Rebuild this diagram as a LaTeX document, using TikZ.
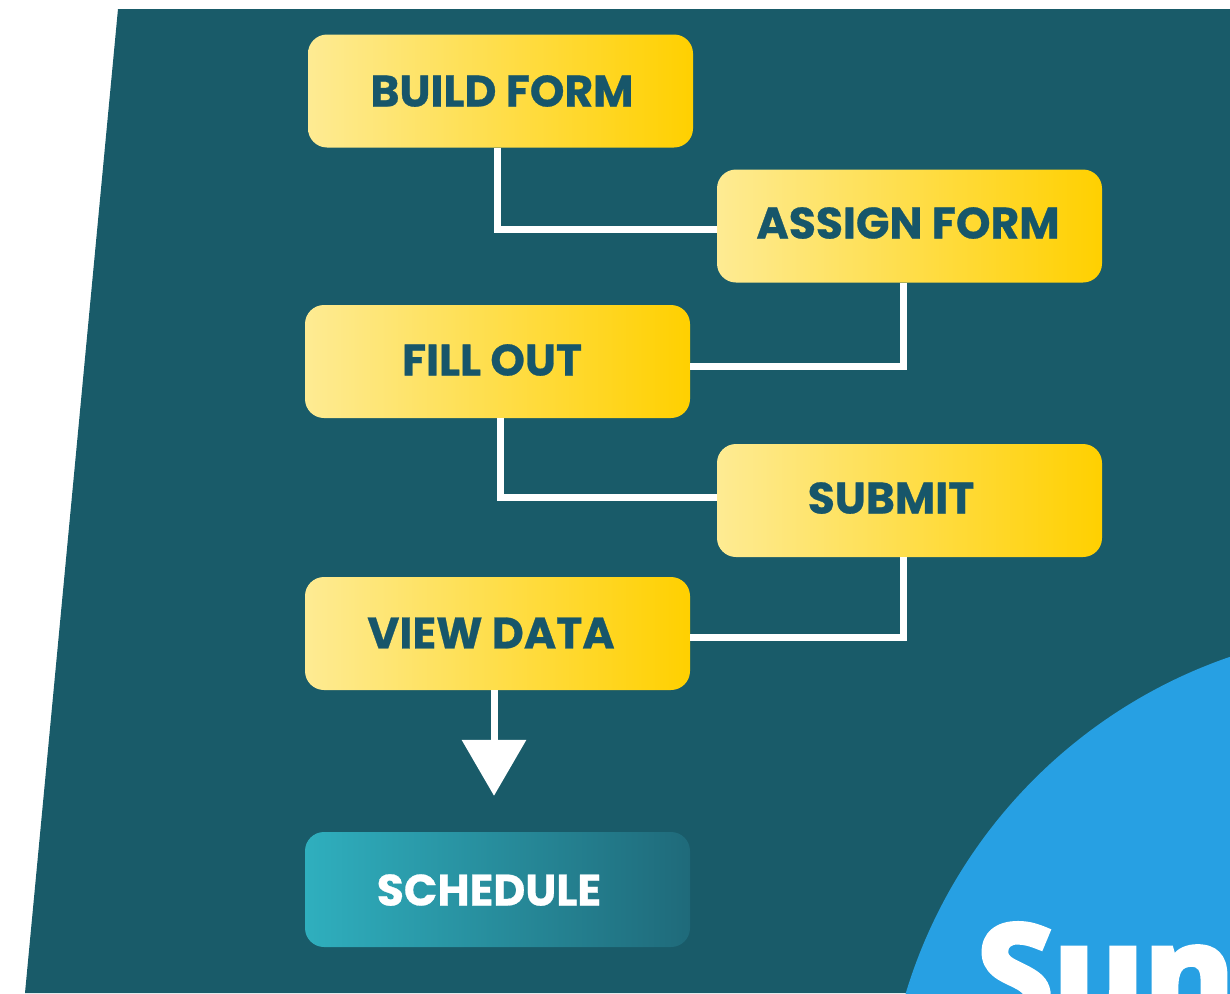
\documentclass[tikz,border=0pt]{standalone}
\usepackage{fontspec}
\setmainfont{Poppins}
\newfontfamily\labelfont{Poppins Bold}[FakeBold=0.6]
\newfontfamily\bigfont{Open Sans Bold}[FakeBold=4.5]
\usetikzlibrary{arrows.meta}
\definecolor{bgteal}{HTML}{195B69}
\definecolor{skyblue}{HTML}{27A0E3}
\definecolor{inkteal}{HTML}{17566A}
\definecolor{yelA}{HTML}{FEEB93}
\definecolor{yelB}{HTML}{FFDF60}
\definecolor{yelC}{HTML}{FFD000}
\definecolor{tealA}{HTML}{2FAFBE}
\definecolor{tealB}{HTML}{1F6A7A}
\tikzset{
  x=1pt,y=-1pt,
  flowbox/.style={rounded corners=19pt,inner sep=0pt,minimum width=385pt,minimum height=113pt,left color=yelA,middle color=yelB,right color=yelC},
  lastbox/.style={rounded corners=19pt,inner sep=0pt,minimum width=385pt,minimum height=115pt,left color=tealA,right color=tealB},
  darklabel/.style={inner sep=0pt,text=inkteal,font=\fontsize{44}{44}\labelfont},
  lightlabel/.style={inner sep=0pt,text=white,font=\fontsize{44}{44}\labelfont},
  link/.style={draw=white,line width=7pt,line join=miter},
}
\begin{document}
\begin{tikzpicture}
\useasboundingbox (0,0) rectangle (1230,993);
\clip (0,0) rectangle (1230,993);
\fill[white] (0,0) rectangle (1230,993);
\fill[bgteal] (118,9) -- (1230,9) -- (1230,993) -- (25,993) -- cycle;
\fill[skyblue] (1396.4,1141.7) circle[radius=512.5pt];
\node[anchor=base west,inner sep=0pt,text=white,font=\fontsize{138}{138}\bigfont] (sun) at (977,1024) {Sun};

\node[flowbox] (build) at (500.5,91) {};
\node[flowbox] (assign) at (909.5,226) {};
\node[flowbox] (fill) at (497.5,361.5) {};
\node[flowbox] (submit) at (909.5,500.5) {};
\node[flowbox] (view) at (497.5,633.5) {};
\node[lastbox] (schedule) at (497.5,889.5) {};

\node[darklabel] (tbuild) at (502,91) {BUILD FORM};
\node[darklabel] (tassign) at (908,223) {ASSIGN FORM};
\node[darklabel] (tfill) at (492,360) {FILL OUT};
\node[darklabel] (tsubmit) at (891,498) {SUBMIT};
\node[darklabel] (tview) at (491,633) {VIEW DATA};
\node[lightlabel] (tschedule) at (489,890) {SCHEDULE};

\draw[link] ([xshift=-3.5pt]build.south) |- ([yshift=-3pt]assign.west);
\draw[link] ([xshift=-6.5pt]assign.south) |- ([yshift=-4.5pt]fill.east);
\draw[link] ([xshift=2.5pt]fill.south) |- ([yshift=3.5pt]submit.west);
\draw[link] ([xshift=-6.5pt]submit.south) |- ([yshift=-3.5pt]view.east);
\draw[link,-{Triangle[length=56pt,width=63pt]},shorten >=36pt,white] ([xshift=-3.5pt]view.south) -- ([xshift=-3.5pt]schedule.north);
\end{tikzpicture}
\end{document}
